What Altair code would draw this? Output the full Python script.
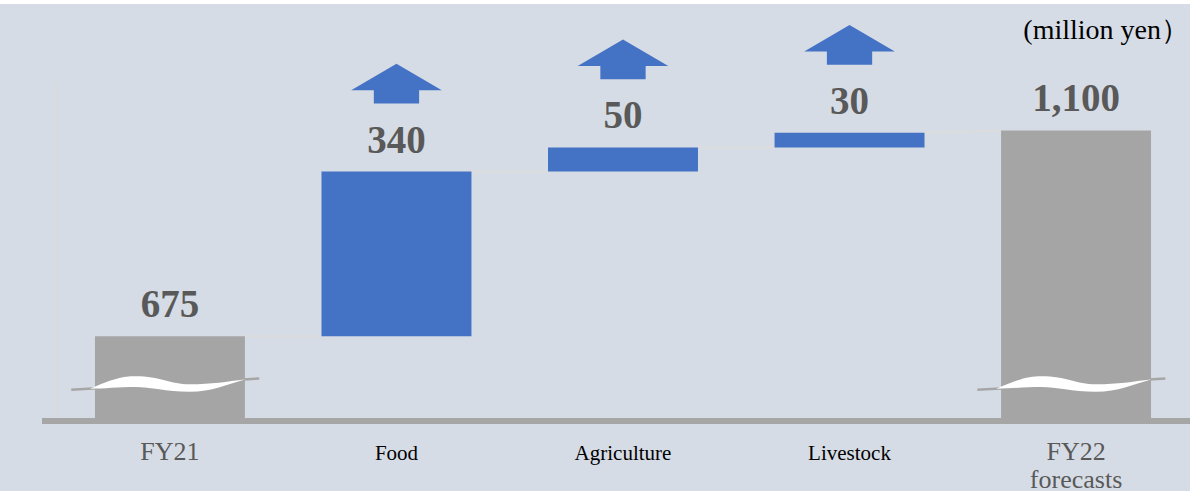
import altair as alt
import pandas as pd

# ---- data ----
categories = ["FY21", "Food", "Agriculture", "Livestock", "FY22 forecasts"]
values = [675, 340, 50, 30, 1100]
kinds = ["total", "change", "change", "change", "total"]
unit_label = "(million yen\uff09"

# broken axis: scale floor / ceiling and where the break marker sits
Y_FLOOR, Y_CEIL = 500, 1200
BREAK_AT = 576

BLUE = "#4472C4"
GREY_BAR = "#A5A5A5"
GREY_LINE = "#A6A6A6"
LABEL_GREY = "#595959"
BG = "#D6DCE5"
FONT = "Liberation Serif"

rows = []
running = 0
for c, v, k in zip(categories, values, kinds):
    if k == "total":
        start, end = 0, v
    else:
        start, end = running, running + v
    running = end
    rows.append(dict(cat=c, value=v, kind=k, start=start, end=end, label=f"{v:,}"))
df = pd.DataFrame(rows)
df["brk"] = BREAK_AT

conn = []
for i in range(len(rows) - 1):
    a, b = rows[i], rows[i + 1]
    conn.append(dict(cat=a["cat"], next=b["cat"], y=a["end"],
                     y2=b["end"] if b["kind"] == "total" else b["start"]))
conn_df = pd.DataFrame(conn)

xscale = alt.Scale(paddingInner=0.338, paddingOuter=0.172)
yscale = alt.Scale(domain=[Y_FLOOR, Y_CEIL], clamp=True, nice=False, zero=False)

GREY_TEST = "datum.value == 'FY21' || datum.value == 'FY22 forecasts'"
x_axis = alt.Axis(
    title=None, domain=False, ticks=False, tickSize=0, grid=False, labelAngle=0,
    labelPadding=38, labelBaseline="alphabetic", labelFont=FONT,
    labelExpr="datum.value == 'FY22 forecasts' ? ['FY22', 'forecasts'] : datum.value",
    labelLineHeight=28,
    labelColor={"condition": {"test": GREY_TEST, "value": LABEL_GREY}, "value": "black"},
    labelFontSize={"condition": {"test": GREY_TEST, "value": 26}, "value": 21},
)
y_axis = alt.Axis(title=None, labels=False, ticks=False, grid=False,
                  domainColor="#DADADA", domainWidth=1.5)


def X(**kw):
    return alt.X("cat:N", sort=categories, scale=xscale, axis=x_axis, **kw)


def Y(field):
    return alt.Y(field, scale=yscale, axis=y_axis)


base = alt.Chart(df)

connectors = alt.Chart(conn_df).mark_rule(color="#DCDCDC", strokeWidth=2).encode(
    x=X(bandPosition=1),
    x2=alt.X2("next:N", bandPosition=0),
    y=Y("y:Q"),
    y2="y2:Q",
)

bars = base.mark_bar().encode(
    x=X(),
    y=Y("end:Q"),
    y2="start:Q",
    color=alt.Color("kind:N", scale=alt.Scale(domain=["total", "change"],
                                              range=[GREY_BAR, BLUE]), legend=None),
)

ARROW = "M0,-0.44 L1,0.146 L0.5,0.146 L0.5,0.44 L-0.5,0.44 L-0.5,0.146 L-1,0.146 Z"
arrows = base.transform_filter("datum.kind == 'change'").mark_point(
    shape=ARROW, filled=True, fill=BLUE, stroke=None, opacity=1, fillOpacity=1,
    size=8208, yOffset=-88,
).encode(x=X(), y=Y("end:Q"))

labels = base.mark_text(font=FONT, fontSize=39, fontWeight="bold", color=LABEL_GREY,
                        baseline="alphabetic", dy=-19).encode(
    x=X(), y=Y("end:Q"), text="label:N",
)

BREAK_LINE = "M-1.05,0.06 L0.95,-0.06"
BREAK_FILL = ("M-0.85,0.048 C-0.6,-0.06 -0.5,-0.085 -0.37,-0.085 "
              "C-0.1,-0.085 0.0,0.0 0.21,0.0 C0.45,0.0 0.6,-0.03 0.8,-0.051 "
              "C0.6,0.0 0.45,0.08 0.21,0.08 C-0.05,0.08 -0.2,0.03 -0.37,0.03 "
              "C-0.55,0.03 -0.7,0.048 -0.85,0.048 Z")
totals = base.transform_filter("datum.kind == 'total'")
break_line = totals.mark_point(shape=BREAK_LINE, filled=False, stroke=GREY_LINE,
                               strokeWidth=2.5, opacity=1, size=35344).encode(
    x=X(), y=Y("brk:Q"),
)
break_fill = totals.mark_point(shape=BREAK_FILL, filled=True, fill="white", stroke=None,
                               opacity=1, fillOpacity=1, size=35344).encode(
    x=X(), y=Y("brk:Q"),
)

one = pd.DataFrame({"t": [unit_label]})
baseline = alt.Chart(one).mark_rule(color=GREY_LINE, strokeWidth=6).encode(
    x=alt.value(-14), x2=alt.value(1134), y=alt.value(339)
)
title = alt.Chart(one).mark_text(font=FONT, fontSize=28, color="black", align="right",
                                 baseline="alphabetic").encode(
    x=alt.value(1133), y=alt.value(-43), text="t:N"
)
top_strip = alt.Chart(one).mark_rect(color="white").encode(
    x=alt.value(-56), x2=alt.value(1134), y=alt.value(-82), y2=alt.value(-78)
)

chart = alt.layer(
    connectors, bars, break_line, break_fill, baseline, arrows, labels, title, top_strip
).properties(
    width=1134, height=339,
    autosize=alt.AutoSizeParams(type="none"),
    padding={"left": 56, "top": 82, "right": 0, "bottom": 70},
    background=BG,
).configure_view(stroke=None)

chart.save("out.html", embed_options={"renderer": "svg", "actions": False})
